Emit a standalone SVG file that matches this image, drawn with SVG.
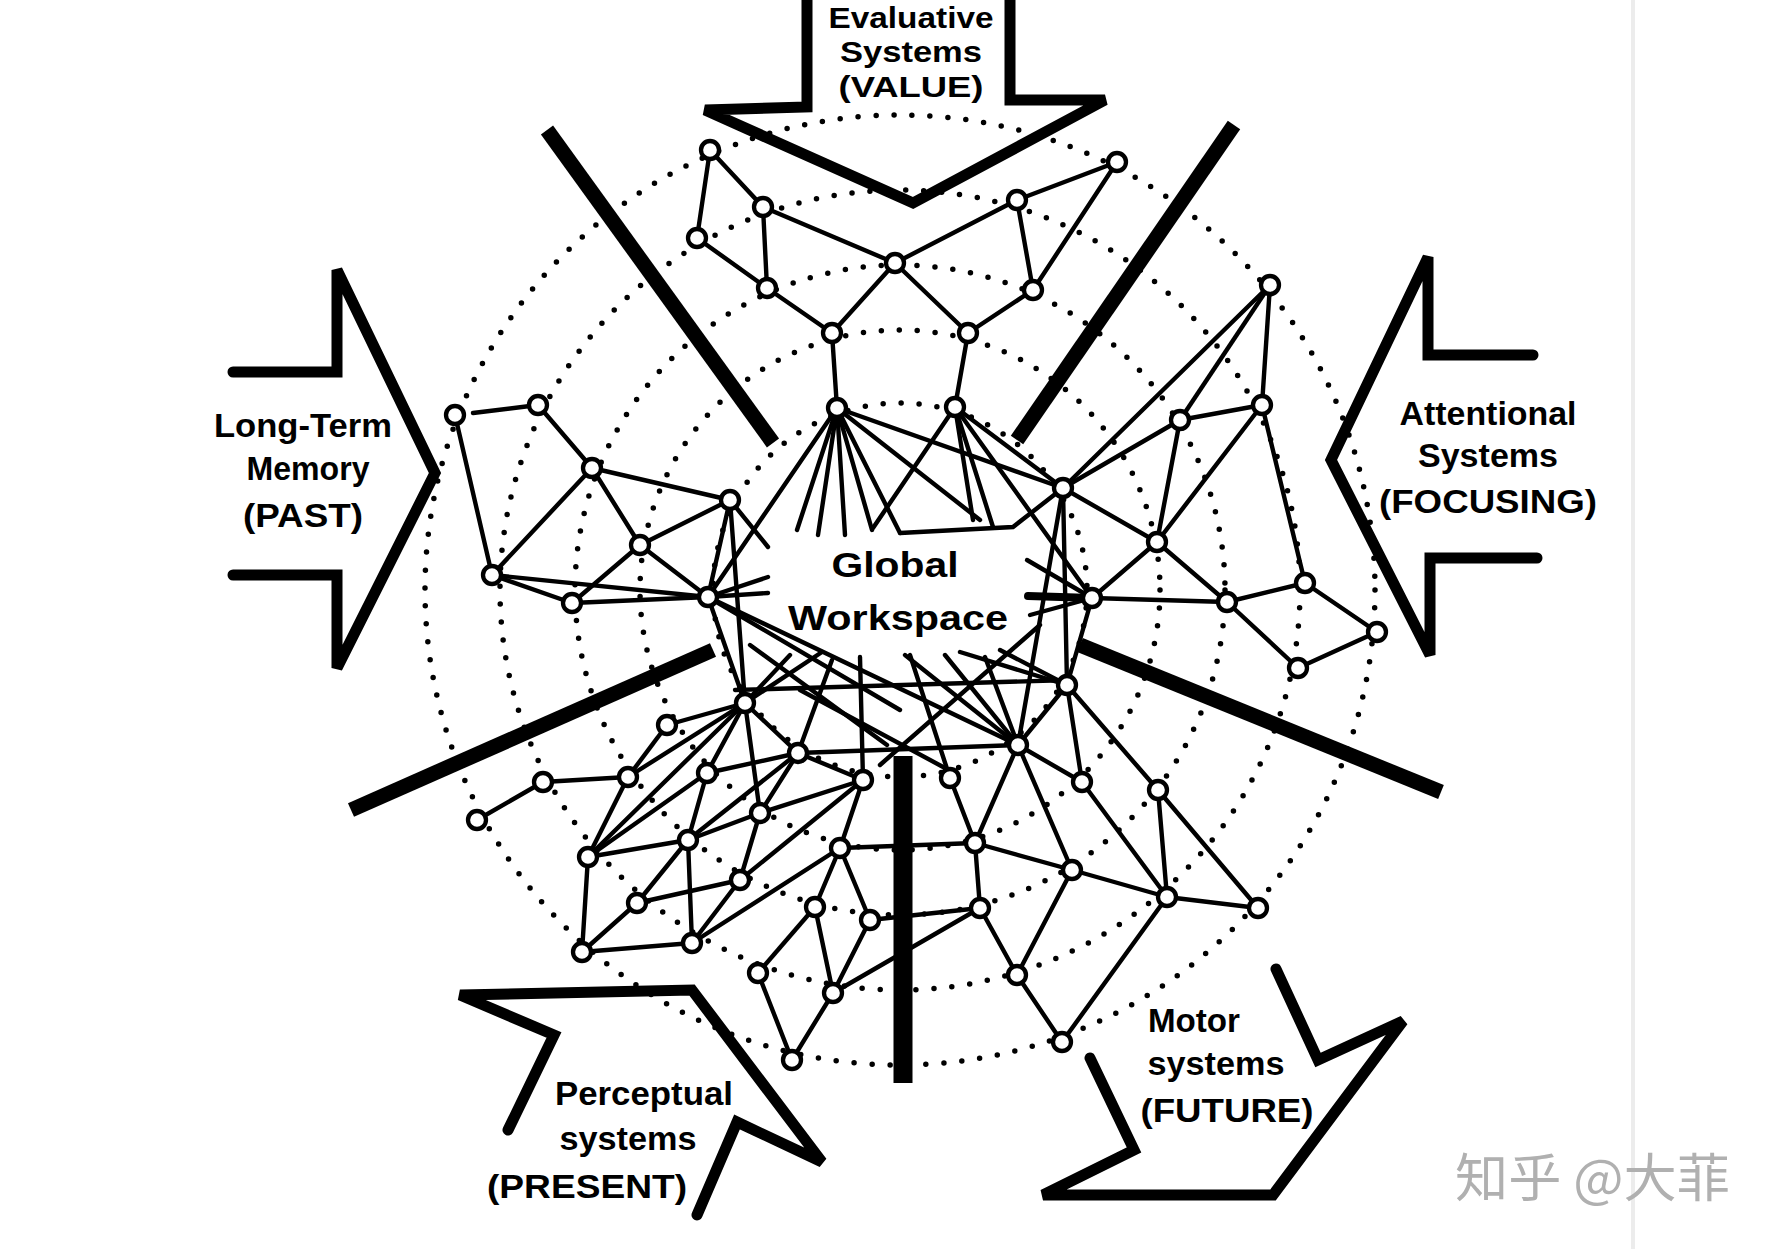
<svg xmlns="http://www.w3.org/2000/svg" width="1775" height="1249" viewBox="0 0 1775 1249">
<style>
.dot{fill:none;stroke:#000;stroke-width:5.5;stroke-linecap:round;stroke-dasharray:0 18}
.bar{stroke:#000;fill:none}
.arrow{fill:none;stroke:#000;stroke-width:11;stroke-linejoin:miter;stroke-linecap:round}
.n{fill:#fff;stroke:#000;stroke-width:4.3}
.lbl{font-family:"Liberation Sans",Arial,sans-serif;font-weight:bold;font-size:33px;text-anchor:middle;fill:#000}
.top{font-size:30px}
.gw{font-family:"Liberation Sans",Arial,sans-serif;font-weight:bold;font-size:35px;text-anchor:middle;fill:#000}
</style>
<rect x="0" y="0" width="1775" height="1249" fill="#fff"/>
<line x1="1633" y1="0" x2="1633" y2="1249" stroke="#ececec" stroke-width="4"/>

<g id="rings">
<circle class="dot" cx="900" cy="590" r="187"/>
<circle class="dot" cx="900" cy="590" r="260"/>
<circle class="dot" cx="900" cy="590" r="325"/>
<circle class="dot" cx="900" cy="590" r="400"/>
<circle class="dot" cx="900" cy="590" r="475"/>
</g>

<g id="connectors" stroke="#000" stroke-width="4.4" stroke-linecap="round" fill="none">
<line x1="710" y1="150" x2="763" y2="207"/>
<line x1="710" y1="150" x2="697" y2="238"/>
<line x1="763" y1="207" x2="767" y2="288"/>
<line x1="697" y1="238" x2="767" y2="288"/>
<line x1="763" y1="207" x2="895" y2="263"/>
<line x1="895" y1="263" x2="1017" y2="200"/>
<line x1="1017" y1="200" x2="1117" y2="162"/>
<line x1="1017" y1="200" x2="1033" y2="290"/>
<line x1="1117" y1="162" x2="1033" y2="290"/>
<line x1="767" y1="288" x2="832" y2="333"/>
<line x1="895" y1="263" x2="832" y2="333"/>
<line x1="895" y1="263" x2="968" y2="333"/>
<line x1="1033" y1="290" x2="968" y2="333"/>
<line x1="832" y1="333" x2="837" y2="408"/>
<line x1="968" y1="333" x2="955" y2="407"/>

<line x1="837" y1="408" x2="797" y2="530"/>
<line x1="837" y1="408" x2="818" y2="535"/>
<line x1="837" y1="408" x2="845" y2="535"/>
<line x1="837" y1="408" x2="872" y2="530"/>
<line x1="837" y1="408" x2="900" y2="533"/>
<line x1="837" y1="408" x2="1063" y2="488"/>
<line x1="837" y1="408" x2="980" y2="520"/>
<line x1="837" y1="408" x2="708" y2="597"/>
<polyline points="900,533 1013,527 1063,488"/>
<line x1="955" y1="407" x2="873" y2="528"/>
<line x1="955" y1="407" x2="973" y2="520"/>
<line x1="955" y1="407" x2="993" y2="527"/>
<line x1="955" y1="407" x2="1063" y2="488"/>
<line x1="955" y1="407" x2="1092" y2="598"/>

<line x1="473" y1="413" x2="538" y2="405"/>
<line x1="455" y1="415" x2="492" y2="575"/>
<line x1="538" y1="405" x2="592" y2="468"/>
<line x1="592" y1="468" x2="730" y2="500"/>
<line x1="592" y1="468" x2="492" y2="575"/>
<line x1="592" y1="468" x2="640" y2="545"/>
<line x1="640" y1="545" x2="730" y2="500"/>
<line x1="640" y1="545" x2="572" y2="603"/>
<line x1="640" y1="545" x2="708" y2="597"/>
<line x1="492" y1="575" x2="572" y2="603"/>
<line x1="492" y1="575" x2="708" y2="597"/>
<line x1="572" y1="603" x2="708" y2="597"/>
<line x1="730" y1="500" x2="708" y2="597"/>
<line x1="730" y1="500" x2="768" y2="547"/>
<line x1="730" y1="500" x2="745" y2="703"/>
<line x1="708" y1="597" x2="768" y2="577"/>
<line x1="708" y1="597" x2="768" y2="593"/>
<line x1="708" y1="597" x2="745" y2="703"/>
<line x1="708" y1="597" x2="1018" y2="745"/>
<line x1="708" y1="597" x2="900" y2="710"/>

<line x1="1270" y1="285" x2="1063" y2="488"/>
<line x1="1270" y1="285" x2="1180" y2="420"/>
<line x1="1270" y1="285" x2="1262" y2="405"/>
<line x1="1180" y1="420" x2="1262" y2="405"/>
<line x1="1180" y1="420" x2="1063" y2="488"/>
<line x1="1180" y1="420" x2="1157" y2="542"/>
<line x1="1262" y1="405" x2="1157" y2="542"/>
<line x1="1262" y1="405" x2="1305" y2="583"/>
<line x1="1063" y1="488" x2="1157" y2="542"/>
<line x1="1157" y1="542" x2="1092" y2="598"/>
<line x1="1157" y1="542" x2="1227" y2="602"/>
<line x1="1092" y1="598" x2="1227" y2="602"/>
<line x1="1227" y1="602" x2="1305" y2="583"/>
<line x1="1305" y1="583" x2="1377" y2="632"/>
<line x1="1227" y1="602" x2="1298" y2="668"/>
<line x1="1298" y1="668" x2="1377" y2="632"/>
<line x1="1063" y1="488" x2="1067" y2="685"/>
<line x1="1063" y1="488" x2="1018" y2="745"/>
<line x1="1092" y1="598" x2="1027" y2="560"/>
<line x1="1092" y1="598" x2="1030" y2="615"/>
<line x1="1092" y1="598" x2="1067" y2="685"/>
<line x1="1092" y1="598" x2="1028" y2="596" stroke-width="8"/>

<line x1="735" y1="690" x2="1070" y2="680"/>
<line x1="745" y1="703" x2="790" y2="655"/>
<line x1="745" y1="703" x2="822" y2="652"/>
<line x1="745" y1="703" x2="798" y2="753"/>
<line x1="798" y1="753" x2="832" y2="660"/>
<line x1="863" y1="780" x2="860" y2="657"/>
<line x1="1018" y1="745" x2="905" y2="655"/>
<line x1="1018" y1="745" x2="945" y2="655"/>
<line x1="1018" y1="745" x2="985" y2="657"/>
<line x1="1067" y1="685" x2="1000" y2="650"/>
<line x1="1067" y1="685" x2="960" y2="652"/>
<line x1="800" y1="690" x2="945" y2="768"/>
<line x1="750" y1="645" x2="887" y2="745"/>
<line x1="1040" y1="625" x2="880" y2="765"/>
<line x1="798" y1="753" x2="1018" y2="745"/>
<line x1="950" y1="778" x2="910" y2="655"/>

<line x1="543" y1="782" x2="477" y2="820"/>
<line x1="543" y1="782" x2="628" y2="777"/>
<line x1="628" y1="777" x2="745" y2="703"/>
<line x1="667" y1="725" x2="745" y2="703"/>
<line x1="667" y1="725" x2="628" y2="777"/>
<line x1="628" y1="777" x2="588" y2="857"/>
<line x1="745" y1="703" x2="707" y2="773"/>
<line x1="745" y1="703" x2="760" y2="813"/>
<line x1="745" y1="703" x2="588" y2="857"/>
<line x1="707" y1="773" x2="688" y2="840"/>
<line x1="588" y1="857" x2="707" y2="773"/>
<line x1="588" y1="857" x2="688" y2="840"/>
<line x1="688" y1="840" x2="798" y2="753"/>
<line x1="688" y1="840" x2="760" y2="813"/>
<line x1="760" y1="813" x2="863" y2="780"/>
<line x1="688" y1="840" x2="637" y2="903"/>
<line x1="688" y1="840" x2="692" y2="943"/>
<line x1="637" y1="903" x2="740" y2="880"/>
<line x1="588" y1="857" x2="582" y2="952"/>
<line x1="582" y1="952" x2="637" y2="903"/>
<line x1="582" y1="952" x2="692" y2="943"/>
<line x1="692" y1="943" x2="740" y2="880"/>
<line x1="740" y1="880" x2="760" y2="813"/>
<line x1="740" y1="880" x2="863" y2="780"/>
<line x1="692" y1="943" x2="840" y2="848"/>
<line x1="840" y1="848" x2="863" y2="780"/>
<line x1="840" y1="848" x2="815" y2="907"/>
<line x1="840" y1="848" x2="870" y2="920"/>
<line x1="815" y1="907" x2="833" y2="993"/>
<line x1="815" y1="907" x2="758" y2="973"/>
<line x1="870" y1="920" x2="833" y2="993"/>
<line x1="758" y1="973" x2="792" y2="1060"/>
<line x1="833" y1="993" x2="792" y2="1060"/>
<line x1="798" y1="753" x2="760" y2="813"/>
<line x1="707" y1="773" x2="798" y2="753"/>
<line x1="798" y1="753" x2="863" y2="780"/>
<line x1="840" y1="848" x2="975" y2="843"/>
<line x1="870" y1="920" x2="980" y2="908"/>
<line x1="980" y1="908" x2="833" y2="993"/>

<line x1="1067" y1="685" x2="1082" y2="782"/>
<line x1="1067" y1="685" x2="1158" y2="790"/>
<line x1="1067" y1="685" x2="1018" y2="745"/>
<line x1="1018" y1="745" x2="1082" y2="782"/>
<line x1="1018" y1="745" x2="975" y2="843"/>
<line x1="1018" y1="745" x2="1072" y2="870"/>
<line x1="1082" y1="782" x2="1167" y2="897"/>
<line x1="1158" y1="790" x2="1167" y2="897"/>
<line x1="1158" y1="790" x2="1258" y2="908"/>
<line x1="1167" y1="897" x2="1258" y2="908"/>
<line x1="1072" y1="870" x2="1167" y2="897"/>
<line x1="975" y1="843" x2="1072" y2="870"/>
<line x1="950" y1="778" x2="975" y2="843"/>
<line x1="975" y1="843" x2="980" y2="908"/>
<line x1="980" y1="908" x2="1017" y2="975"/>
<line x1="1072" y1="870" x2="1017" y2="975"/>
<line x1="1017" y1="975" x2="1062" y2="1042"/>
<line x1="1167" y1="897" x2="1062" y2="1042"/>
</g>

<g id="barriers">
<line class="bar" x1="547" y1="130" x2="773" y2="443" stroke-width="15"/>
<line class="bar" x1="1234" y1="125" x2="1017" y2="440" stroke-width="15"/>
<line class="bar" x1="351" y1="810" x2="713" y2="650" stroke-width="15"/>
<line class="bar" x1="1080" y1="645" x2="1441" y2="792" stroke-width="15"/>
<line class="bar" x1="903" y1="756" x2="903" y2="1083" stroke-width="19"/>
</g>

<g id="nodes">
<g id="n1"><circle class="n" cx="710" cy="150" r="9"/></g>
<g id="n2"><circle class="n" cx="763" cy="207" r="9"/></g>
<g id="n3"><circle class="n" cx="697" cy="238" r="9"/></g>
<g id="n4"><circle class="n" cx="767" cy="288" r="9"/></g>
<g id="n5"><circle class="n" cx="895" cy="263" r="9"/></g>
<g id="n6"><circle class="n" cx="1017" cy="200" r="9"/></g>
<g id="n7"><circle class="n" cx="1117" cy="162" r="9"/></g>
<g id="n8"><circle class="n" cx="1033" cy="290" r="9"/></g>
<g id="n9"><circle class="n" cx="832" cy="333" r="9"/></g>
<g id="n10"><circle class="n" cx="968" cy="333" r="9"/></g>
<g id="n11"><circle class="n" cx="837" cy="408" r="9"/></g>
<g id="n12"><circle class="n" cx="955" cy="407" r="9"/></g>
<g id="l1"><circle class="n" cx="455" cy="415" r="9"/></g>
<g id="l2"><circle class="n" cx="538" cy="405" r="9"/></g>
<g id="l3"><circle class="n" cx="592" cy="468" r="9"/></g>
<g id="n13"><circle class="n" cx="730" cy="500" r="9"/></g>
<g id="l5"><circle class="n" cx="640" cy="545" r="9"/></g>
<g id="l6"><circle class="n" cx="492" cy="575" r="9"/></g>
<g id="l7"><circle class="n" cx="572" cy="603" r="9"/></g>
<g id="n15"><circle class="n" cx="708" cy="597" r="9"/></g>
<g id="r4"><circle class="n" cx="1270" cy="285" r="9"/></g>
<g id="r5"><circle class="n" cx="1180" cy="420" r="9"/></g>
<g id="r6"><circle class="n" cx="1262" cy="405" r="9"/></g>
<g id="n14"><circle class="n" cx="1063" cy="488" r="9"/></g>
<g id="r8"><circle class="n" cx="1157" cy="542" r="9"/></g>
<g id="n16"><circle class="n" cx="1092" cy="598" r="9"/></g>
<g id="r10"><circle class="n" cx="1227" cy="602" r="9"/></g>
<g id="r11"><circle class="n" cx="1305" cy="583" r="9"/></g>
<g id="r12"><circle class="n" cx="1377" cy="632" r="9"/></g>
<g id="r13"><circle class="n" cx="1298" cy="668" r="9"/></g>
<g id="n17"><circle class="n" cx="745" cy="703" r="9"/></g>
<g id="n18"><circle class="n" cx="1067" cy="685" r="9"/></g>
<g id="b2"><circle class="n" cx="667" cy="725" r="9"/></g>
<g id="b3"><circle class="n" cx="543" cy="782" r="9"/></g>
<g id="b4"><circle class="n" cx="477" cy="820" r="9"/></g>
<g id="b5"><circle class="n" cx="628" cy="777" r="9"/></g>
<g id="b6"><circle class="n" cx="707" cy="773" r="9"/></g>
<g id="b7"><circle class="n" cx="798" cy="753" r="9"/></g>
<g id="b8"><circle class="n" cx="863" cy="780" r="9"/></g>
<g id="b9"><circle class="n" cx="760" cy="813" r="9"/></g>
<g id="b10"><circle class="n" cx="688" cy="840" r="9"/></g>
<g id="b11"><circle class="n" cx="588" cy="857" r="9"/></g>
<g id="b12"><circle class="n" cx="740" cy="880" r="9"/></g>
<g id="b13"><circle class="n" cx="637" cy="903" r="9"/></g>
<g id="b14"><circle class="n" cx="840" cy="848" r="9"/></g>
<g id="b15"><circle class="n" cx="582" cy="952" r="9"/></g>
<g id="b16"><circle class="n" cx="692" cy="943" r="9"/></g>
<g id="b17"><circle class="n" cx="815" cy="907" r="9"/></g>
<g id="b18"><circle class="n" cx="870" cy="920" r="9"/></g>
<g id="b19"><circle class="n" cx="758" cy="973" r="9"/></g>
<g id="b20"><circle class="n" cx="833" cy="993" r="9"/></g>
<g id="b21"><circle class="n" cx="792" cy="1060" r="9"/></g>
<g id="c2"><circle class="n" cx="1018" cy="745" r="9"/></g>
<g id="c4"><circle class="n" cx="950" cy="778" r="9"/></g>
<g id="c5"><circle class="n" cx="1082" cy="782" r="9"/></g>
<g id="c6"><circle class="n" cx="1158" cy="790" r="9"/></g>
<g id="c7"><circle class="n" cx="975" cy="843" r="9"/></g>
<g id="c9"><circle class="n" cx="980" cy="908" r="9"/></g>
<g id="c10"><circle class="n" cx="1072" cy="870" r="9"/></g>
<g id="c11"><circle class="n" cx="1167" cy="897" r="9"/></g>
<g id="c12"><circle class="n" cx="1258" cy="908" r="9"/></g>
<g id="c13"><circle class="n" cx="1017" cy="975" r="9"/></g>
<g id="c14"><circle class="n" cx="1062" cy="1042" r="9"/></g>
</g>

<g id="workspace">
<text class="gw" x="895" y="577" textLength="127" lengthAdjust="spacingAndGlyphs">Global</text>
<text class="gw" x="898" y="630" textLength="220" lengthAdjust="spacingAndGlyphs">Workspace</text>
</g>

<g id="value">
<path class="arrow" d="M807,-10 L807,107 L705,110 L913,203 L1105,100 L1010,100 L1010,-10"/>
<text class="lbl top" x="911" y="28" textLength="165" lengthAdjust="spacingAndGlyphs">Evaluative</text>
<text class="lbl top" x="911" y="62" textLength="142" lengthAdjust="spacingAndGlyphs">Systems</text>
<text class="lbl top" x="911" y="97" textLength="145" lengthAdjust="spacingAndGlyphs">(VALUE)</text>
</g>

<g id="past">
<path class="arrow" d="M233,372 L337,372 L337,270 L435,473 L337,668 L337,575 L233,575"/>
<text class="lbl" x="303" y="437" textLength="178" lengthAdjust="spacingAndGlyphs">Long-Term</text>
<text class="lbl" x="308" y="480" textLength="123" lengthAdjust="spacingAndGlyphs">Memory</text>
<text class="lbl" x="303" y="527" textLength="120" lengthAdjust="spacingAndGlyphs">(PAST)</text>
</g>

<g id="focusing">
<path class="arrow" d="M1533,355 L1428,355 L1428,257 L1331,460 L1430,655 L1430,558 L1537,558"/>
<text class="lbl" x="1488" y="425" textLength="177" lengthAdjust="spacingAndGlyphs">Attentional</text>
<text class="lbl" x="1488" y="467" textLength="140" lengthAdjust="spacingAndGlyphs">Systems</text>
<text class="lbl" x="1488" y="513" textLength="218" lengthAdjust="spacingAndGlyphs">(FOCUSING)</text>
</g>

<g id="present">
<path class="arrow" d="M508,1130 L554,1035 L460,995 L692,990 L822,1162 L737,1122 L697,1215"/>
<text class="lbl" x="644" y="1105" textLength="178" lengthAdjust="spacingAndGlyphs">Perceptual</text>
<text class="lbl" x="628" y="1150" textLength="137" lengthAdjust="spacingAndGlyphs">systems</text>
<text class="lbl" x="587" y="1198" textLength="200" lengthAdjust="spacingAndGlyphs">(PRESENT)</text>
</g>

<g id="future">
<path class="arrow" d="M1090,1058 L1134,1150 L1043,1195 L1273,1195 L1403,1021 L1318,1060 L1276,969"/>
<text class="lbl" x="1194" y="1032" textLength="92" lengthAdjust="spacingAndGlyphs">Motor</text>
<text class="lbl" x="1216" y="1075" textLength="137" lengthAdjust="spacingAndGlyphs">systems</text>
<text class="lbl" x="1227" y="1122" textLength="173" lengthAdjust="spacingAndGlyphs">(FUTURE)</text>
</g>

<text x="1455" y="1197" font-family="'Noto Sans CJK SC','Noto Sans',sans-serif" font-size="52" fill="#b0b0b0" textLength="275" lengthAdjust="spacingAndGlyphs">知乎 @大菲</text>
</svg>
